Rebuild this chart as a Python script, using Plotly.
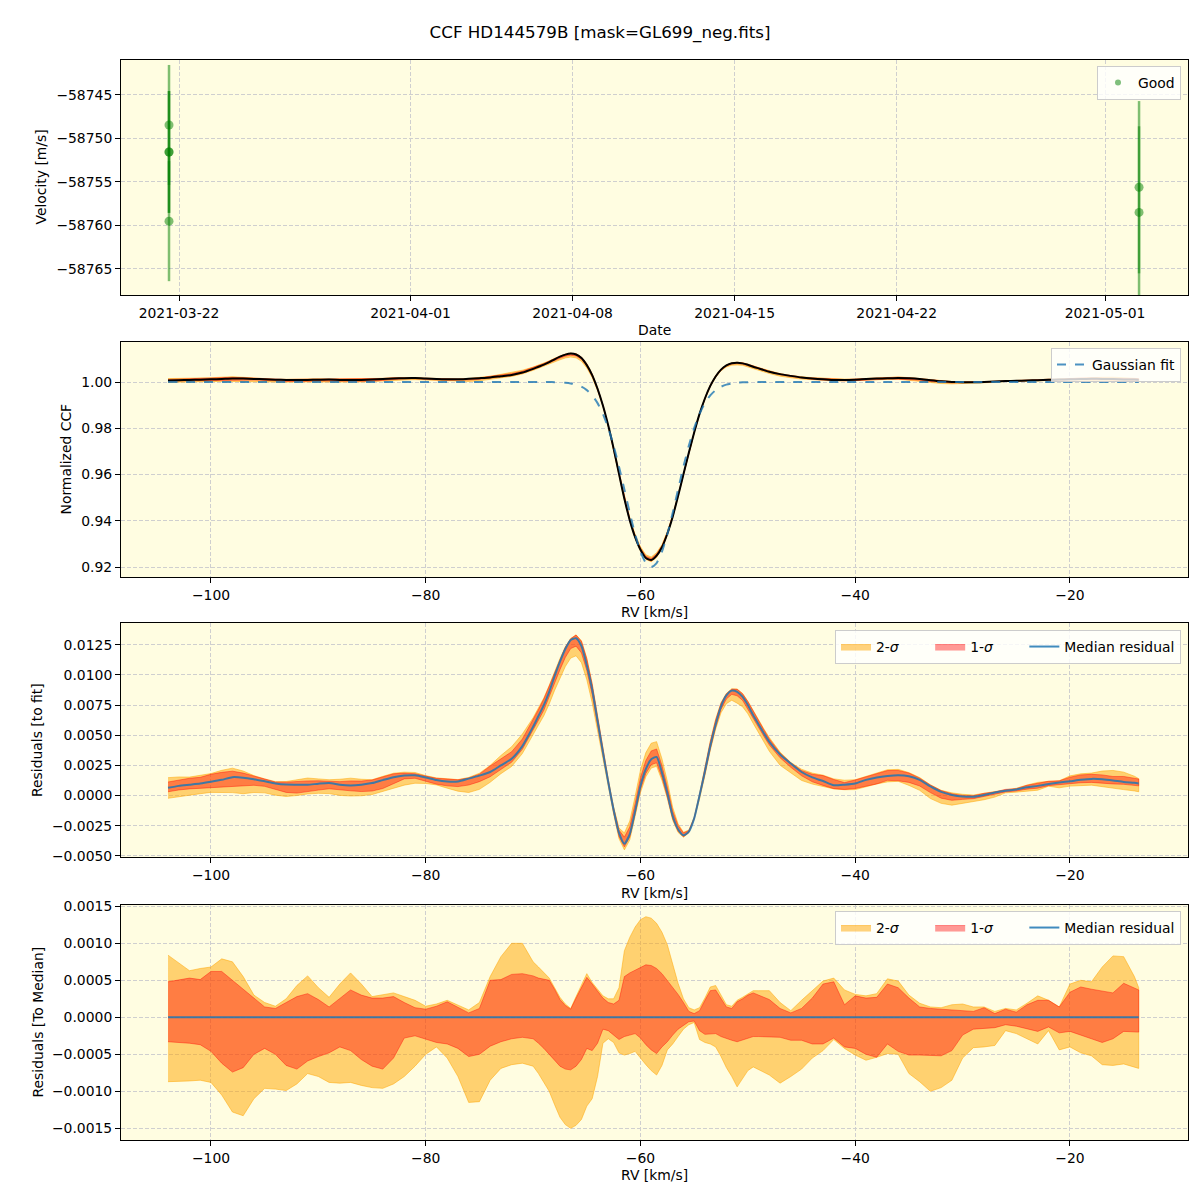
import plotly.graph_objects as go

# ---------------- Panel 1: RV time series ----------------
obs_dates = ["2021-03-21 13:38", "2021-03-21 13:38", "2021-03-21 13:38", "2021-03-21 13:38",
             "2021-05-02 11:15", "2021-05-02 11:15"]
obs_vel = [-58748.45, -58751.55, -58751.55, -58759.5, -58755.6, -58758.5]
obs_err = [6.9, 7.0, 7.0, 6.9, 9.9, 9.9]
date_ticks = ["2021-03-22", "2021-04-01", "2021-04-08", "2021-04-15", "2021-04-22", "2021-05-01"]

# ---------------- CCF grid (km/s) ----------------
rv = [-104, -103, -102, -101, -100, -99, -98, -97, -96, -95, -94, -93, -92, -91, -90, -89, -88,
      -87, -86, -85, -84, -83, -82, -81, -80, -79, -78, -77, -76, -75, -74, -73, -72, -71,
      -70, -69.5, -69, -68.5, -68, -67.5, -67, -66.5, -66, -65.5, -65, -64.5, -64, -63.5, -63,
      -62.5, -62, -61.5, -61, -60.5, -60, -59.5, -59, -58.5, -58, -57.5, -57, -56.5, -56, -55.5,
      -55, -54.5, -54, -53.5, -53, -52.5, -52, -51.5, -51, -50.5, -50, -49.5, -49, -48.5, -48,
      -47, -46, -45, -44, -43, -42, -41, -40, -39, -38, -37, -36, -35, -34, -33, -32, -31, -30,
      -29, -28, -27, -26, -25, -24, -23, -22, -21, -20, -19, -18, -17, -16, -15, -14, -13.6]

# Gaussian fit (normalized CCF)
gauss_fit = [1.0] * 34 + [
    1.0, 1.0, 0.99999, 0.99997, 0.99993, 0.99985, 0.99969, 0.99939, 0.99886, 0.99796, 0.99649,
    0.99421, 0.99087, 0.98621, 0.98005, 0.97238, 0.96338, 0.95350, 0.94347, 0.93419, 0.92665,
    0.92172, 0.92000, 0.92172, 0.92665, 0.93419, 0.94347, 0.95350, 0.96338, 0.97238, 0.98005,
    0.98621, 0.99087, 0.99421, 0.99649, 0.99796, 0.99886, 0.99939, 0.99969, 0.99985, 0.99993,
    0.99997, 0.99999, 1.0, 1.0] + [1.0] * 35

# Median residual (CCF - fit)
median_resid = [
    0.00064, 0.00080, 0.00090, 0.00100, 0.00114, 0.00130, 0.00152, 0.00148, 0.00135, 0.00118,
    0.00100, 0.00091, 0.00090, 0.00089, 0.00098, 0.00104, 0.00090, 0.00084, 0.00090, 0.00103,
    0.00128, 0.00152, 0.00166, 0.00168, 0.00150, 0.00128, 0.00116, 0.00116, 0.00140, 0.00165,
    0.00195, 0.00250, 0.00305, 0.00410,
    0.0057, 0.0066, 0.0075, 0.0086, 0.0099, 0.0111, 0.01215, 0.0129, 0.01305, 0.0124, 0.0108,
    0.0088, 0.0062, 0.0036, 0.0011, -0.0012, -0.0031, -0.0040, -0.0032, -0.0013, 0.0008,
    0.0022, 0.0030, 0.0032, 0.0019, 0.0002, -0.0017, -0.0028, -0.0033, -0.0030, -0.0019,
    0.0000, 0.0020, 0.0041, 0.0059, 0.0074, 0.0083, 0.0087, 0.0086, 0.0082, 0.0075, 0.00665,
    0.0059, 0.00515, 0.00445,
    0.00340, 0.00265, 0.00195, 0.00150, 0.00120, 0.00085, 0.00090, 0.00100, 0.00130, 0.00150,
    0.00162, 0.00168, 0.00160, 0.00130, 0.00075, 0.00030, 0.00005, -0.00008, -0.00010, 0.00005,
    0.00025, 0.00040, 0.00050, 0.00068, 0.00080, 0.00095, 0.00108, 0.00118, 0.00130, 0.00138,
    0.00135, 0.00125, 0.00112, 0.00105, 0.00100]

# Percentile bands relative to the median residual, in units of 1e-4
up2_e4 = [8.4, 7.4, 6.3, 6.6, 6.8, 7.9, 7.5, 5.5, 3.0, 2.0, 1.5, 2.5, 4.3, 5.6, 4.0, 2.7, 4.5, 6.0,
          4.5, 2.8, 3.1, 3.3, 2.8, 2.3, 1.5, 1.8, 2.3, 1.6, 1.0, 2.0, 5.5, 8.2, 10.0, 10.0,
          7.5, 6.8, 6.0, 5.3, 4.0, 2.7, 1.8, 1.2, 2.8, 4.3, 5.9, 4.7, 3.8, 2.9, 2.5, 2.5, 4.0, 9.0,
          10.8, 12.2, 13.2, 13.6, 13.4, 12.7, 11.5, 9.8, 7.2, 4.6, 2.5, 1.3, 1.0, 1.3, 2.6, 4.1,
          4.3, 3.0, 1.7, 1.5, 2.3, 2.7, 3.2, 3.6, 3.6, 3.6, 3.6,
          2.0, 0.9, 2.3, 3.6, 4.9, 5.3, 3.7, 3.1, 2.9, 3.2, 5.2, 4.9, 3.0, 1.9, 1.4, 1.3, 1.7, 1.8,
          1.4, 1.4, 0.8, 1.2, 1.0, 1.9, 2.9, 2.3, 1.4, 4.5, 5.0, 4.8, 6.8, 8.3, 8.2, 5.5, 4.0]
up1_e4 = [4.8, 5.0, 5.3, 5.1, 6.2, 6.2, 5.0, 3.8, 2.6, 1.4, 1.2, 2.0, 2.8, 3.2, 2.4, 1.4, 2.5, 3.7,
          3.0, 2.6, 2.6, 2.8, 2.0, 1.3, 1.1, 1.5, 2.1, 1.4, 0.6, 1.2, 5.0, 5.1, 5.8, 5.9,
          5.6, 5.3, 5.1, 5.0, 3.8, 2.4, 1.6, 1.1, 2.6, 4.0, 5.4, 4.5, 3.6, 2.6, 2.0, 1.8, 2.3, 5.5,
          6.0, 6.4, 6.8, 7.1, 7.0, 6.6, 5.9, 5.0, 4.1, 3.1, 2.0, 0.8, 0.5, 0.9, 2.3, 3.6, 3.7,
          2.6, 1.4, 1.2, 2.1, 2.5, 3.0, 3.3, 3.0, 2.8, 2.4,
          1.2, 0.6, 1.2, 2.6, 4.5, 4.8, 1.7, 2.9, 2.6, 2.7, 4.5, 4.0, 2.6, 1.4, 1.2, 1.1, 0.9, 0.9,
          0.8, 1.3, 0.5, 1.1, 0.7, 1.7, 2.3, 2.3, 1.4, 3.4, 4.1, 3.8, 3.6, 3.3, 4.6, 4.0, 3.7]
lo1_e4 = [-3.3, -3.4, -3.5, -3.7, -4.6, -6.2, -7.4, -6.8, -5.0, -4.2, -5.0, -6.5, -7.0, -5.9, -5.3,
          -4.8, -4.0, -4.5, -5.7, -6.6, -7.0, -5.5, -2.8, -2.5, -3.0, -3.4, -3.6, -4.2, -5.3, -5.0,
          -3.9, -3.3, -2.9, -2.7,
          -2.9, -3.5, -4.2, -4.9, -5.8, -6.6, -7.0, -7.1, -6.6, -5.7, -4.2, -4.5, -3.5, -1.6, -1.8,
          -2.4, -3.0, -2.6, -2.4, -2.2, -2.8, -3.7, -4.4, -4.9, -4.0, -3.3, -2.4, -1.6, -1.1, -0.6,
          -0.5, -1.8, -2.3, -2.3, -2.2, -2.6, -2.9, -3.1, -3.3, -3.0, -2.8, -2.6, -2.6, -2.6, -2.6,
          -2.7, -3.1, -3.1, -3.6, -3.6, -2.8, -4.0, -4.2, -5.0, -5.4, -3.6, -4.6, -5.1, -5.1, -5.1,
          -5.2, -4.5, -2.4, -1.6, -1.5, -1.4, -1.0, -1.2, -1.5, -1.9, -1.3, -2.1, -1.9, -2.4, -2.9,
          -3.4, -2.9, -1.9, -2.0, -2.0]
lo2_e4 = [-8.7, -8.7, -8.6, -8.5, -8.8, -10.5, -12.8, -13.3, -11.0, -9.6, -9.7, -9.9, -9.0, -7.6,
          -8.0, -8.8, -8.9, -8.8, -9.2, -9.5, -9.6, -9.0, -8.0, -6.6, -5.0, -4.0, -5.5, -8.0,
          -11.5, -11.4, -8.5, -6.9, -6.4, -6.2,
          -6.6, -7.6, -8.8, -10.0, -11.8, -13.5, -14.5, -15.0, -14.6, -13.8, -12.0, -11.0, -8.0,
          -3.5, -2.9, -3.4, -4.8, -5.1, -4.9, -4.6, -5.5, -6.4, -7.2, -7.8, -6.5, -4.4, -3.6, -2.6,
          -1.6, -1.0, -0.7, -3.0, -3.4, -3.6, -4.0, -5.3, -6.8, -8.0, -9.4, -8.3, -7.2, -6.7, -7.0,
          -7.4, -7.8,
          -8.9, -8.0, -7.0, -5.5, -4.5, -3.0, -4.2, -5.1, -5.8, -5.4, -4.9, -5.0, -7.6, -8.7, -10.0,
          -9.5, -8.5, -5.5, -4.1, -4.0, -3.8, -1.8, -2.2, -2.9, -3.6, -1.8, -4.4, -4.0, -4.8, -5.2,
          -6.4, -6.5, -6.3, -6.7, -6.9]

n = len(rv)
assert all(len(a) == n for a in [gauss_fit, median_resid, up2_e4, up1_e4, lo1_e4, lo2_e4])

up2 = [v * 1e-4 for v in up2_e4]
up1 = [v * 1e-4 for v in up1_e4]
lo1 = [v * 1e-4 for v in lo1_e4]
lo2 = [v * 1e-4 for v in lo2_e4]

ccf = [g + m for g, m in zip(gauss_fit, median_resid)]
zero_line = [m - m for m in median_resid]

C2 = "rgba(255,165,0,0.5)"
C1 = "rgba(255,0,0,0.4)"
CBLUE = "rgba(31,119,180,0.85)"
FONT = "DejaVu Sans"
FS = 13.9
PAD = "\u00a0" * 6
NAME2 = "2-<i>σ</i>" + PAD
NAME1 = "1-<i>σ</i>" + PAD


def band(xs, lo, hi, color, name, xa, ya, legend, show):
    return go.Scatter(x=list(xs) + list(xs)[::-1], y=list(hi) + list(lo)[::-1],
                      fill="toself", fillcolor=color, mode="lines",
                      line=dict(color=color, width=1), name=name,
                      xaxis=xa, yaxis=ya, legend=legend, showlegend=show,
                      hoverinfo="skip")


fig = go.Figure()

# Panel 1
fig.add_trace(go.Scatter(
    x=obs_dates, y=obs_vel, mode="markers", name="Good", showlegend=False,
    marker=dict(color="rgba(0,128,0,0.5)", size=9, line=dict(width=0)),
    error_y=dict(type="data", array=obs_err, visible=True, color="rgba(0,128,0,0.5)",
                 thickness=2.5, width=0),
    xaxis="x", yaxis="y", legend="legend"))
fig.add_trace(go.Scatter(x=[None], y=[None], mode="markers", name="Good",
                         marker=dict(color="rgba(0,128,0,0.5)", size=6, line=dict(width=0)),
                         xaxis="x", yaxis="y", legend="legend"))

# Panel 2
fig.add_trace(band(rv, [g + m + l for g, m, l in zip(gauss_fit, median_resid, lo2)],
                   [g + m + u for g, m, u in zip(gauss_fit, median_resid, up2)],
                   C2, "2-σ", "x2", "y2", "legend2", False))
fig.add_trace(band(rv, [g + m + l for g, m, l in zip(gauss_fit, median_resid, lo1)],
                   [g + m + u for g, m, u in zip(gauss_fit, median_resid, up1)],
                   C1, "1-σ", "x2", "y2", "legend2", False))
fig.add_trace(go.Scatter(x=rv, y=ccf, mode="lines",
                         line=dict(color="black", width=2, shape="spline", smoothing=0.6),
                         name="CCF", showlegend=False, xaxis="x2", yaxis="y2", legend="legend2"))
fig.add_trace(go.Scatter(x=rv, y=gauss_fit, mode="lines",
                         line=dict(color="rgba(31,119,180,0.8)", width=2, dash="dash",
                                   shape="spline", smoothing=0.6),
                         name="Gaussian fit", xaxis="x2", yaxis="y2", legend="legend2"))

# Panel 3
fig.add_trace(band(rv, [m + l for m, l in zip(median_resid, lo2)],
                   [m + u for m, u in zip(median_resid, up2)],
                   C2, NAME2, "x3", "y3", "legend3", True))
fig.add_trace(band(rv, [m + l for m, l in zip(median_resid, lo1)],
                   [m + u for m, u in zip(median_resid, up1)],
                   C1, NAME1, "x3", "y3", "legend3", True))
fig.add_trace(go.Scatter(x=rv, y=median_resid, mode="lines",
                         line=dict(color=CBLUE, width=2, shape="spline", smoothing=0.6),
                         name="Median residual", xaxis="x3", yaxis="y3", legend="legend3"))

# Panel 4
fig.add_trace(band(rv, lo2, up2, C2, NAME2, "x4", "y4", "legend4", True))
fig.add_trace(band(rv, lo1, up1, C1, NAME1, "x4", "y4", "legend4", True))
fig.add_trace(go.Scatter(x=rv, y=zero_line, mode="lines", line=dict(color=CBLUE, width=2),
                         name="Median residual", xaxis="x4", yaxis="y4", legend="legend4"))

W = 1200.0
OFF = 8.0  # page body margin offset


def px_x(p):
    return (p - OFF) / W


def px_y(p):
    return 1 - (p - OFF) / W


xdom = [px_x(121), px_x(1188)]


def ydom(top, bottom):
    return [px_y(bottom), px_y(top)]


axis_common = dict(showline=True, linecolor="black", linewidth=1, mirror=True,
                   ticks="outside", ticklen=5, tickcolor="black", tickwidth=1,
                   showgrid=True, gridcolor="#cfcfcf", griddash="4px,2px", gridwidth=1,
                   zeroline=False, automargin=False,
                   tickfont=dict(family=FONT, size=FS, color="black"))

legend_common = dict(bgcolor="rgba(255,255,255,0.8)", bordercolor="#cccccc", borderwidth=1,
                     font=dict(family=FONT, size=FS, color="black"), xref="paper", yref="paper",
                     xanchor="right", yanchor="top", x=px_x(1181))

fig.update_layout(
    width=1200, height=1200,
    margin=dict(l=0, r=0, t=0, b=0, autoexpand=False),
    paper_bgcolor="white", plot_bgcolor="#FFFDE1",
    font=dict(family=FONT, size=FS, color="black"),
    title=dict(text="CCF HD144579B [mask=GL699_neg.fits]", x=px_x(600), xanchor="center",
               y=px_y(32), yanchor="middle", font=dict(family=FONT, size=16.7, color="black")),
    xaxis=dict(axis_common, domain=xdom, anchor="y", type="date",
               range=["2021-03-19 11:52", "2021-05-04 14:00"],
               tickvals=date_ticks, ticktext=date_ticks),
    yaxis=dict(axis_common, domain=ydom(60, 295), anchor="x",
               range=[-58767.99, -58740.98], dtick=5, tick0=0, tickformat="d"),
    xaxis2=dict(axis_common, domain=xdom, anchor="y2", range=[-108.38, -9.01], dtick=20, tick0=0),
    yaxis2=dict(axis_common, domain=ydom(342, 577), anchor="x2", range=[0.91568, 1.0173],
                dtick=0.02, tick0=0, tickformat=".2f"),
    xaxis3=dict(axis_common, domain=xdom, anchor="y3", range=[-108.38, -9.01], dtick=20, tick0=0),
    yaxis3=dict(axis_common, domain=ydom(623, 857), anchor="x3", range=[-0.0051, 0.01431],
                dtick=0.0025, tick0=0, tickformat=".4f"),
    xaxis4=dict(axis_common, domain=xdom, anchor="y4", range=[-108.38, -9.01], dtick=20, tick0=0),
    yaxis4=dict(axis_common, domain=ydom(905, 1140), anchor="x4", range=[-0.001658, 0.001518],
                dtick=0.0005, tick0=0, tickformat=".4f"),
    legend=dict(legend_common, y=px_y(66)),
    legend2=dict(legend_common, y=px_y(348)),
    legend3=dict(legend_common, y=px_y(630), orientation="h"),
    legend4=dict(legend_common, y=px_y(911), orientation="h"),
    showlegend=True,
)

labels = [
    ("Velocity [m/s]", 41, 177.5, -90),
    ("Date", 654.5, 330, 0),
    ("Normalized CCF", 66, 459.5, -90),
    ("RV [km/s]", 654.5, 612, 0),
    ("Residuals [to fit]", 37, 740, -90),
    ("RV [km/s]", 654.5, 893, 0),
    ("Residuals [To Median]", 37, 1022.5, -90),
    ("RV [km/s]", 654.5, 1175, 0),
]
for text, px, py, ang in labels:
    fig.add_annotation(text=text, x=px_x(px), y=px_y(py), xref="paper", yref="paper",
                       showarrow=False, textangle=ang, xanchor="center", yanchor="middle",
                       font=dict(family=FONT, size=FS, color="black"))

fig.write_html("out.html")
